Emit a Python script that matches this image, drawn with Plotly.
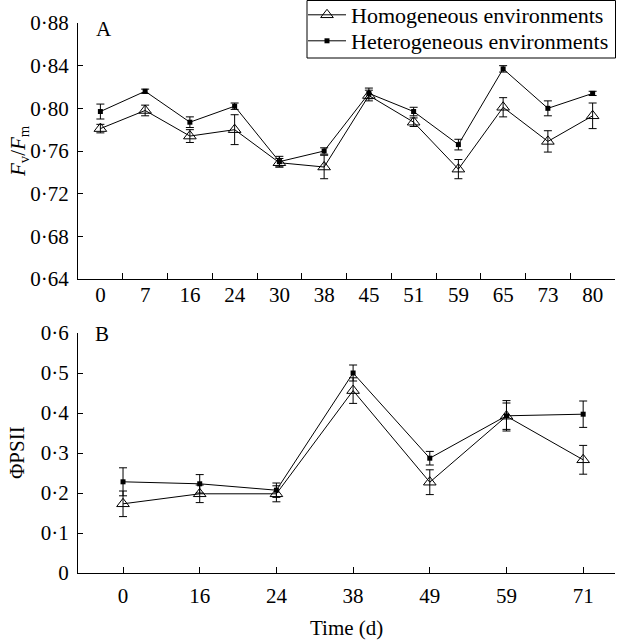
import plotly.graph_objects as go

# ---------------- data ----------------
days_a = ["0", "7", "16", "24", "30", "38", "45", "51", "59", "65", "73", "80"]
homo_a = [0.781, 0.798, 0.774, 0.780, 0.749, 0.745, 0.812, 0.787, 0.743, 0.801, 0.769, 0.793]
homo_a_err = [0.004, 0.005, 0.006, 0.014, 0.004, 0.011, 0.005, 0.004, 0.009, 0.009, 0.010, 0.012]
het_a = [0.797, 0.816, 0.787, 0.802, 0.750, 0.760, 0.814, 0.797, 0.766, 0.837, 0.800, 0.814]
het_a_err = [0.007, 0.002, 0.005, 0.003, 0.005, 0.003, 0.005, 0.004, 0.005, 0.003, 0.007, 0.002]

days_b = ["0", "16", "24", "38", "49", "59", "71"]
homo_b = [0.173, 0.198, 0.198, 0.456, 0.227, 0.392, 0.283]
homo_b_err = [0.032, 0.022, 0.020, 0.032, 0.031, 0.033, 0.036]
het_b = [0.228, 0.223, 0.207, 0.500, 0.287, 0.393, 0.397]
het_b_err = [0.035, 0.023, 0.018, 0.020, 0.017, 0.038, 0.033]

ytick_a_vals = [0.64, 0.68, 0.72, 0.76, 0.80, 0.84, 0.88]
ytick_a_text = ["0·64", "0·68", "0·72", "0·76", "0·80", "0·84", "0·88"]
ytick_b_vals = [0, 0.1, 0.2, 0.3, 0.4, 0.5, 0.6]
ytick_b_text = ["0", "0·1", "0·2", "0·3", "0·4", "0·5", "0·6"]

# ---------------- layout geometry (pixels) ----------------
W, H = 617, 640
L, R = 78, 615
T, B = 23, 573
plot_w = R - L
plot_h = B - T


def py(p):
    return (B - p) / plot_h


def px(p):
    return (p - L) / plot_w


FONT = "Liberation Serif, Times New Roman, serif"
FS = 21
LEG_FS = 22

homo_style = dict(mode="lines+markers", line=dict(color="black", width=1),
                  marker=dict(symbol="triangle-up-open", size=11, color="black",
                              line=dict(width=1, color="black")))
het_style = dict(mode="lines+markers", line=dict(color="black", width=1),
                 marker=dict(symbol="square", size=5, color="black"))


def err(arr):
    return dict(type="data", array=arr, visible=True, color="black", thickness=1, width=4)


fig = go.Figure()
fig.add_trace(go.Scatter(x=days_a, y=homo_a, error_y=err(homo_a_err), name="Homogeneous environments",
                         legend="legend", xaxis="x", yaxis="y", **homo_style))
fig.add_trace(go.Scatter(x=days_a, y=het_a, error_y=err(het_a_err), name="Heterogeneous environments",
                         legend="legend2", xaxis="x", yaxis="y", **het_style))
fig.add_trace(go.Scatter(x=days_b, y=homo_b, error_y=err(homo_b_err), showlegend=False,
                         xaxis="x2", yaxis="y2", **homo_style))
fig.add_trace(go.Scatter(x=days_b, y=het_b, error_y=err(het_b_err), showlegend=False,
                         xaxis="x2", yaxis="y2", **het_style))

axis_common = dict(showline=True, linecolor="black", linewidth=1, showgrid=False, zeroline=False,
                   ticks="inside", tickcolor="black", tickwidth=1, mirror=False, automargin=False,
                   tickfont=dict(family=FONT, size=FS, color="black"))

leg_common = dict(xanchor="left", yanchor="middle", borderwidth=0, bgcolor="rgba(0,0,0,0)",
                  font=dict(family=FONT, size=LEG_FS, color="black"), itemwidth=38)

fig.update_layout(
    template="none",
    width=W, height=H,
    margin=dict(l=L, r=W - R, t=T, b=H - B, autoexpand=False),
    paper_bgcolor="white", plot_bgcolor="white",
    font=dict(family=FONT, size=FS, color="black"),
    xaxis=dict(domain=[0, 1], anchor="y", type="category", range=[-0.5, 11.5],
               tickson="boundaries", ticklen=6, ticklabelstandoff=-3, **axis_common),
    yaxis=dict(domain=[py(279), 1], anchor="x", range=[0.64, 0.88], ticklabelstandoff=4,
               tickvals=ytick_a_vals, ticktext=ytick_a_text, ticklen=5, **axis_common),
    xaxis2=dict(domain=[0, 1], anchor="y2", type="category", range=[-0.587, 6.415],
                ticklen=6, ticklabelstandoff=4, **axis_common),
    yaxis2=dict(domain=[0, py(333)], anchor="x2", range=[0, 0.6], ticklabelstandoff=4,
                tickvals=ytick_b_vals, ticktext=ytick_b_text, ticklen=5, **axis_common),
    legend=dict(x=px(303), y=py(15), **leg_common),
    legend2=dict(x=px(303), y=py(41), **leg_common),
    showlegend=True,
)

# legend frame
fig.add_shape(type="rect", xref="paper", yref="paper", layer="above",
              x0=px(307), x1=px(615.5), y0=py(58), y1=py(0.5),
              line=dict(color="black", width=1), fillcolor="white")

annots = [
    dict(text="A", x=px(94), y=py(29), xanchor="left", yanchor="middle"),
    dict(text="B", x=px(93), y=py(334), xanchor="left", yanchor="middle"),
    dict(text="<i>F</i><sub>v</sub>/<i>F</i><sub>m</sub>", x=px(19), y=py(151),
         xanchor="center", yanchor="middle", textangle=-90),
    dict(text="ΦPSII", x=px(17), y=py(453), xanchor="center", yanchor="middle", textangle=-90),
    dict(text="Time (d)", x=px(346), y=py(628), xanchor="center", yanchor="middle"),
]
for a in annots:
    fig.add_annotation(xref="paper", yref="paper", showarrow=False,
                       font=dict(family=FONT, size=FS, color="black"), **a)

# remove the browser's default 8px body margin so the figure sits at the page origin
fig.write_html("out.html", config={"displayModeBar": False},
               post_script="document.body.style.margin='0';document.body.style.overflow='hidden';")
